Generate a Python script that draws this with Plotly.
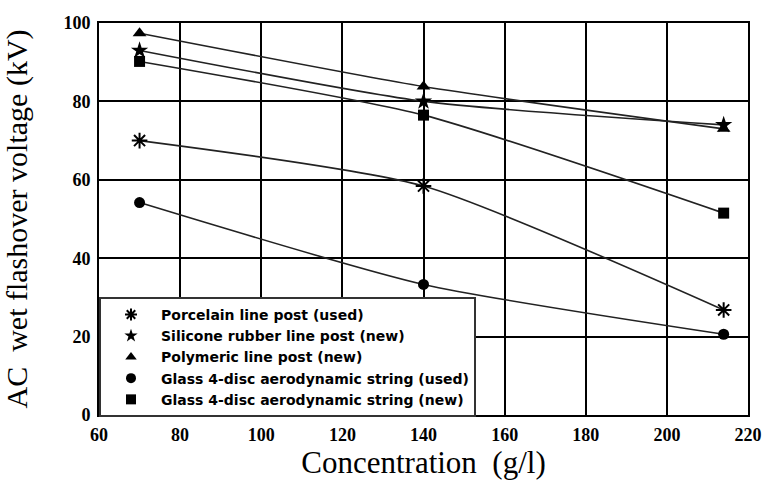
import plotly.graph_objects as go

concentration = [70, 140, 214]
porcelain_used = [70.0, 58.4, 26.8]
silicone_new = [93.0, 80.0, 74.0]
polymeric_new = [97.4, 83.8, 73.0]
glass_used = [54.2, 33.3, 20.6]
glass_new = [90.2, 76.5, 51.5]

series_names = [
    "Porcelain line post (used)",
    "Silicone rubber line post (new)",
    "Polymeric line post (new)",
    "Glass 4-disc aerodynamic string (used)",
    "Glass 4-disc aerodynamic string (new)",
]
series_values = [porcelain_used, silicone_new, polymeric_new, glass_used, glass_new]
symbols = ["asterisk", "star", "triangle-up", "circle", "square"]
sizes = [13, 13, 12, 11, 11]

x_ticks = [60, 80, 100, 120, 140, 160, 180, 200, 220]
y_ticks = [0, 20, 40, 60, 80, 100]

fig = go.Figure()
for name, vals, sym, sz in zip(series_names, series_values, symbols, sizes):
    fig.add_trace(go.Scatter(
        x=concentration, y=vals, mode="lines+markers", name=name,
        line=dict(color="#222", width=1.6, shape="spline", smoothing=0.6),
        marker=dict(symbol=sym, size=sz, color="black",
                    line=dict(color="black", width=2 if sym == "asterisk" else 0)),
        showlegend=False,
    ))
for name, sym in zip(series_names, symbols):
    fig.add_trace(go.Scatter(
        x=[None], y=[None], mode="markers", name=name,
        marker=dict(symbol=sym, size=10, color="black",
                    line=dict(color="black", width=2 if sym == "asterisk" else 0)),
    ))

axis_common = dict(
    showgrid=True, gridcolor="black", gridwidth=1.6,
    showline=True, linecolor="black", linewidth=2, mirror=True,
    zeroline=False, ticks="", automargin=False,
    tickfont=dict(family="Liberation Serif", size=18,
                  color="black", weight="bold"),
)

fig.update_layout(
    width=764, height=485,
    margin=dict(l=99, r=16, t=23, b=70),
    paper_bgcolor="white", plot_bgcolor="white",
    xaxis=dict(range=[60, 220], tickvals=x_ticks, ticklabelstandoff=2,
               title=dict(text="Concentration  (g/l)", standoff=7,
                          font=dict(family="Liberation Serif", size=31, color="black")),
               **axis_common),
    yaxis=dict(range=[0, 100], tickvals=y_ticks, ticklabelstandoff=3,
               title=dict(text="AC  wet flashover voltage (kV)", standoff=34,
                          font=dict(family="Liberation Serif", size=30, color="black")),
               **axis_common),
    legend=dict(
        x=0.0, y=-0.005, xanchor="left", yanchor="bottom",
        bgcolor="white", bordercolor="#333", borderwidth=2,
        font=dict(family="DejaVu Sans", size=14,
                  color="black", weight="bold"),
        itemwidth=50,
    ),
    showlegend=True,
)

# remove the browser's default 8px body margin so the figure fills the window exactly
fig.write_html("out.html",
               config={"displayModeBar": False},
               post_script="document.body.style.margin='0px';document.body.style.overflow='hidden';")
